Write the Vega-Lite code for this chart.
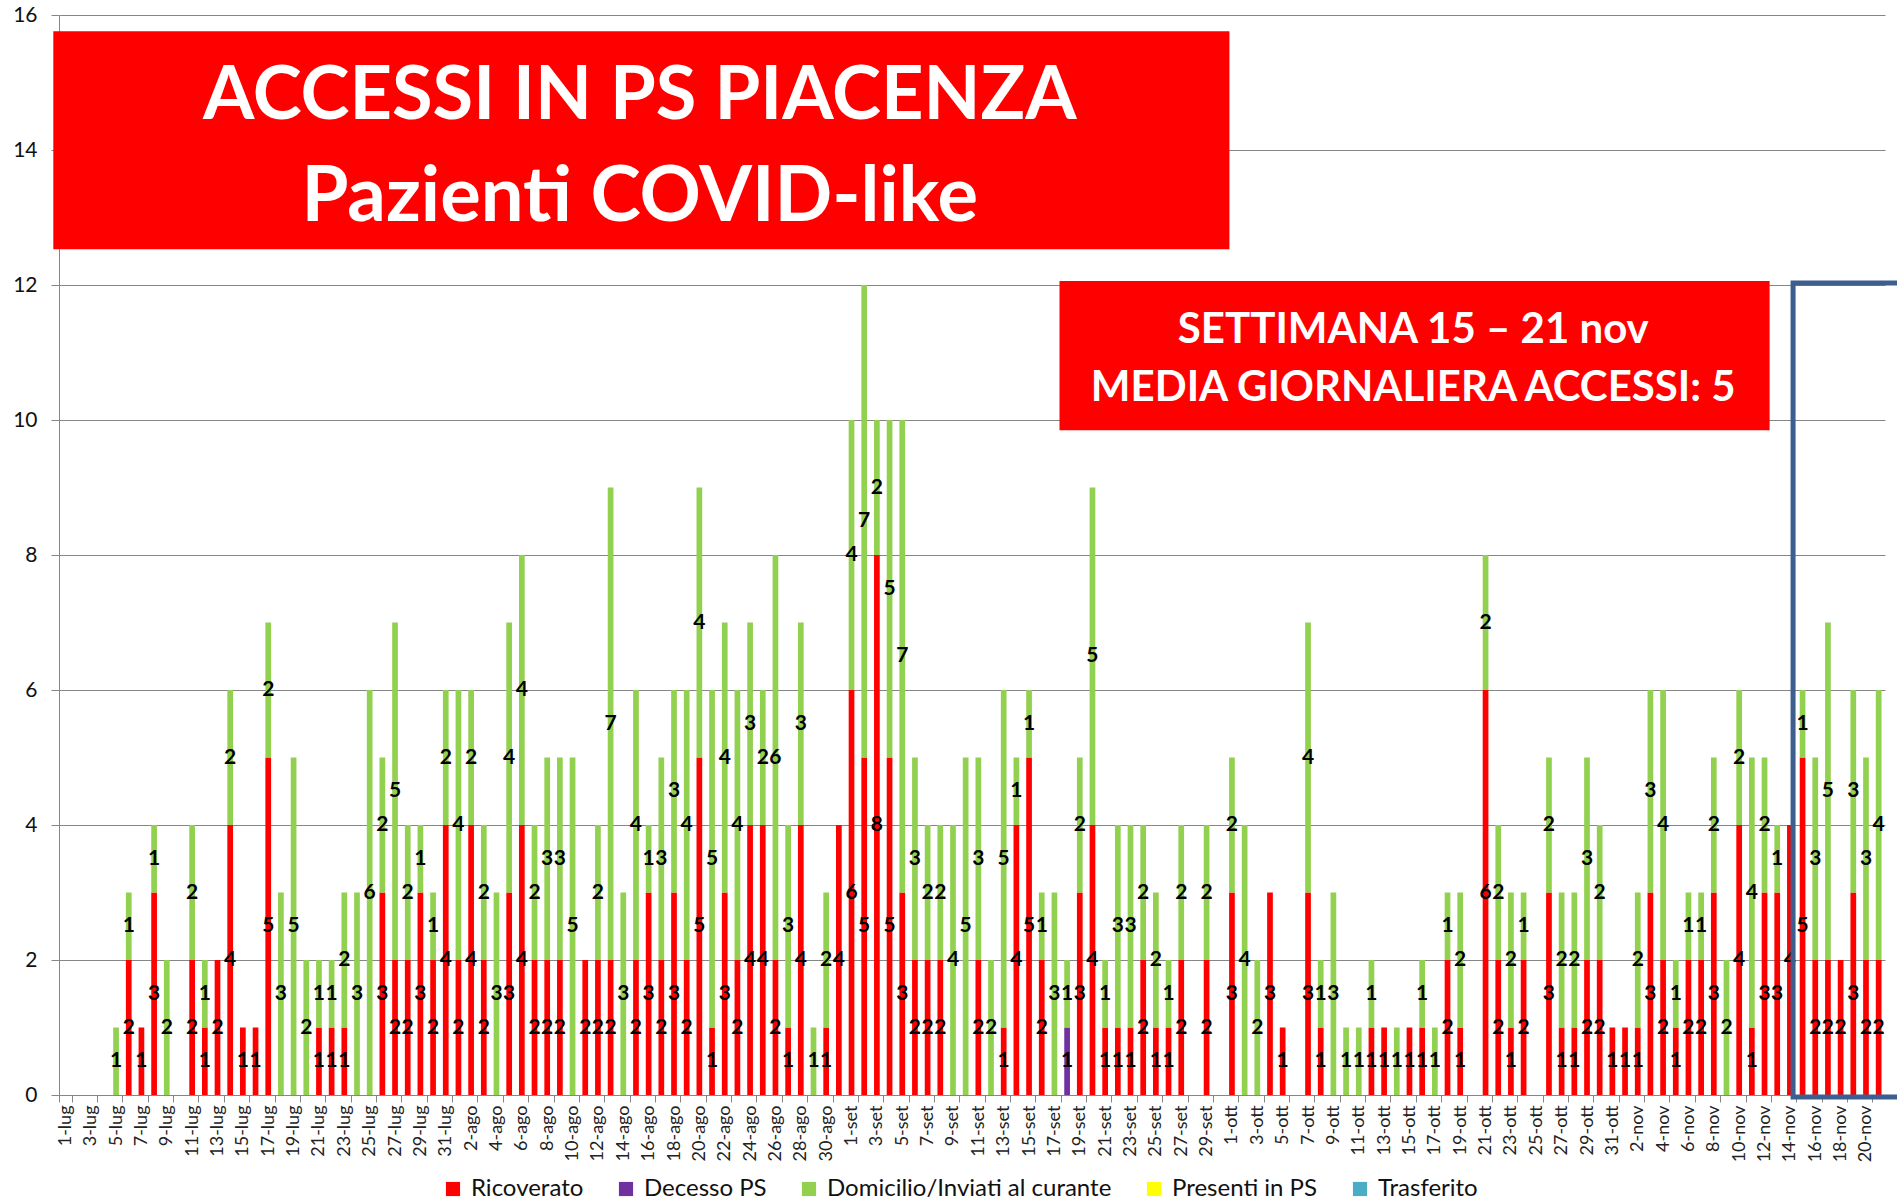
{
  "$schema": "https://vega.github.io/schema/vega-lite/v6.json",
  "width": 1826,
  "height": 1080,
  "autosize": "none",
  "padding": {"left": 59, "top": 15, "right": 12, "bottom": 105},
  "background": "white",
  "config": {"view": {"stroke": null}, "font": "Lato"},
  "datasets": {
    "acc": [
      {"d":"5-lug","s":"Domicilio/Inviati al curante","v":1,"k":3},
      {"d":"6-lug","s":"Ricoverato","v":2,"k":1},{"d":"6-lug","s":"Domicilio/Inviati al curante","v":1,"k":3},
      {"d":"7-lug","s":"Ricoverato","v":1,"k":1},
      {"d":"8-lug","s":"Ricoverato","v":3,"k":1},{"d":"8-lug","s":"Domicilio/Inviati al curante","v":1,"k":3},
      {"d":"9-lug","s":"Domicilio/Inviati al curante","v":2,"k":3},
      {"d":"11-lug","s":"Ricoverato","v":2,"k":1},{"d":"11-lug","s":"Domicilio/Inviati al curante","v":2,"k":3},
      {"d":"12-lug","s":"Ricoverato","v":1,"k":1},{"d":"12-lug","s":"Domicilio/Inviati al curante","v":1,"k":3},
      {"d":"13-lug","s":"Ricoverato","v":2,"k":1},
      {"d":"14-lug","s":"Ricoverato","v":4,"k":1},{"d":"14-lug","s":"Domicilio/Inviati al curante","v":2,"k":3},
      {"d":"15-lug","s":"Ricoverato","v":1,"k":1},
      {"d":"16-lug","s":"Ricoverato","v":1,"k":1},
      {"d":"17-lug","s":"Ricoverato","v":5,"k":1},{"d":"17-lug","s":"Domicilio/Inviati al curante","v":2,"k":3},
      {"d":"18-lug","s":"Domicilio/Inviati al curante","v":3,"k":3},
      {"d":"19-lug","s":"Domicilio/Inviati al curante","v":5,"k":3},
      {"d":"20-lug","s":"Domicilio/Inviati al curante","v":2,"k":3},
      {"d":"21-lug","s":"Ricoverato","v":1,"k":1},{"d":"21-lug","s":"Domicilio/Inviati al curante","v":1,"k":3},
      {"d":"22-lug","s":"Ricoverato","v":1,"k":1},{"d":"22-lug","s":"Domicilio/Inviati al curante","v":1,"k":3},
      {"d":"23-lug","s":"Ricoverato","v":1,"k":1},{"d":"23-lug","s":"Domicilio/Inviati al curante","v":2,"k":3},
      {"d":"24-lug","s":"Domicilio/Inviati al curante","v":3,"k":3},
      {"d":"25-lug","s":"Domicilio/Inviati al curante","v":6,"k":3},
      {"d":"26-lug","s":"Ricoverato","v":3,"k":1},{"d":"26-lug","s":"Domicilio/Inviati al curante","v":2,"k":3},
      {"d":"27-lug","s":"Ricoverato","v":2,"k":1},{"d":"27-lug","s":"Domicilio/Inviati al curante","v":5,"k":3},
      {"d":"28-lug","s":"Ricoverato","v":2,"k":1},{"d":"28-lug","s":"Domicilio/Inviati al curante","v":2,"k":3},
      {"d":"29-lug","s":"Ricoverato","v":3,"k":1},{"d":"29-lug","s":"Domicilio/Inviati al curante","v":1,"k":3},
      {"d":"30-lug","s":"Ricoverato","v":2,"k":1},{"d":"30-lug","s":"Domicilio/Inviati al curante","v":1,"k":3},
      {"d":"31-lug","s":"Ricoverato","v":4,"k":1},{"d":"31-lug","s":"Domicilio/Inviati al curante","v":2,"k":3},
      {"d":"1-ago","s":"Ricoverato","v":2,"k":1},{"d":"1-ago","s":"Domicilio/Inviati al curante","v":4,"k":3},
      {"d":"2-ago","s":"Ricoverato","v":4,"k":1},{"d":"2-ago","s":"Domicilio/Inviati al curante","v":2,"k":3},
      {"d":"3-ago","s":"Ricoverato","v":2,"k":1},{"d":"3-ago","s":"Domicilio/Inviati al curante","v":2,"k":3},
      {"d":"4-ago","s":"Domicilio/Inviati al curante","v":3,"k":3},
      {"d":"5-ago","s":"Ricoverato","v":3,"k":1},{"d":"5-ago","s":"Domicilio/Inviati al curante","v":4,"k":3},
      {"d":"6-ago","s":"Ricoverato","v":4,"k":1},{"d":"6-ago","s":"Domicilio/Inviati al curante","v":4,"k":3},
      {"d":"7-ago","s":"Ricoverato","v":2,"k":1},{"d":"7-ago","s":"Domicilio/Inviati al curante","v":2,"k":3},
      {"d":"8-ago","s":"Ricoverato","v":2,"k":1},{"d":"8-ago","s":"Domicilio/Inviati al curante","v":3,"k":3},
      {"d":"9-ago","s":"Ricoverato","v":2,"k":1},{"d":"9-ago","s":"Domicilio/Inviati al curante","v":3,"k":3},
      {"d":"10-ago","s":"Domicilio/Inviati al curante","v":5,"k":3},
      {"d":"11-ago","s":"Ricoverato","v":2,"k":1},
      {"d":"12-ago","s":"Ricoverato","v":2,"k":1},{"d":"12-ago","s":"Domicilio/Inviati al curante","v":2,"k":3},
      {"d":"13-ago","s":"Ricoverato","v":2,"k":1},{"d":"13-ago","s":"Domicilio/Inviati al curante","v":7,"k":3},
      {"d":"14-ago","s":"Domicilio/Inviati al curante","v":3,"k":3},
      {"d":"15-ago","s":"Ricoverato","v":2,"k":1},{"d":"15-ago","s":"Domicilio/Inviati al curante","v":4,"k":3},
      {"d":"16-ago","s":"Ricoverato","v":3,"k":1},{"d":"16-ago","s":"Domicilio/Inviati al curante","v":1,"k":3},
      {"d":"17-ago","s":"Ricoverato","v":2,"k":1},{"d":"17-ago","s":"Domicilio/Inviati al curante","v":3,"k":3},
      {"d":"18-ago","s":"Ricoverato","v":3,"k":1},{"d":"18-ago","s":"Domicilio/Inviati al curante","v":3,"k":3},
      {"d":"19-ago","s":"Ricoverato","v":2,"k":1},{"d":"19-ago","s":"Domicilio/Inviati al curante","v":4,"k":3},
      {"d":"20-ago","s":"Ricoverato","v":5,"k":1},{"d":"20-ago","s":"Domicilio/Inviati al curante","v":4,"k":3},
      {"d":"21-ago","s":"Ricoverato","v":1,"k":1},{"d":"21-ago","s":"Domicilio/Inviati al curante","v":5,"k":3},
      {"d":"22-ago","s":"Ricoverato","v":3,"k":1},{"d":"22-ago","s":"Domicilio/Inviati al curante","v":4,"k":3},
      {"d":"23-ago","s":"Ricoverato","v":2,"k":1},{"d":"23-ago","s":"Domicilio/Inviati al curante","v":4,"k":3},
      {"d":"24-ago","s":"Ricoverato","v":4,"k":1},{"d":"24-ago","s":"Domicilio/Inviati al curante","v":3,"k":3},
      {"d":"25-ago","s":"Ricoverato","v":4,"k":1},{"d":"25-ago","s":"Domicilio/Inviati al curante","v":2,"k":3},
      {"d":"26-ago","s":"Ricoverato","v":2,"k":1},{"d":"26-ago","s":"Domicilio/Inviati al curante","v":6,"k":3},
      {"d":"27-ago","s":"Ricoverato","v":1,"k":1},{"d":"27-ago","s":"Domicilio/Inviati al curante","v":3,"k":3},
      {"d":"28-ago","s":"Ricoverato","v":4,"k":1},{"d":"28-ago","s":"Domicilio/Inviati al curante","v":3,"k":3},
      {"d":"29-ago","s":"Domicilio/Inviati al curante","v":1,"k":3},
      {"d":"30-ago","s":"Ricoverato","v":1,"k":1},{"d":"30-ago","s":"Domicilio/Inviati al curante","v":2,"k":3},
      {"d":"31-ago","s":"Ricoverato","v":4,"k":1},
      {"d":"1-set","s":"Ricoverato","v":6,"k":1},{"d":"1-set","s":"Domicilio/Inviati al curante","v":4,"k":3},
      {"d":"2-set","s":"Ricoverato","v":5,"k":1},{"d":"2-set","s":"Domicilio/Inviati al curante","v":7,"k":3},
      {"d":"3-set","s":"Ricoverato","v":8,"k":1},{"d":"3-set","s":"Domicilio/Inviati al curante","v":2,"k":3},
      {"d":"4-set","s":"Ricoverato","v":5,"k":1},{"d":"4-set","s":"Domicilio/Inviati al curante","v":5,"k":3},
      {"d":"5-set","s":"Ricoverato","v":3,"k":1},{"d":"5-set","s":"Domicilio/Inviati al curante","v":7,"k":3},
      {"d":"6-set","s":"Ricoverato","v":2,"k":1},{"d":"6-set","s":"Domicilio/Inviati al curante","v":3,"k":3},
      {"d":"7-set","s":"Ricoverato","v":2,"k":1},{"d":"7-set","s":"Domicilio/Inviati al curante","v":2,"k":3},
      {"d":"8-set","s":"Ricoverato","v":2,"k":1},{"d":"8-set","s":"Domicilio/Inviati al curante","v":2,"k":3},
      {"d":"9-set","s":"Domicilio/Inviati al curante","v":4,"k":3},
      {"d":"10-set","s":"Domicilio/Inviati al curante","v":5,"k":3},
      {"d":"11-set","s":"Ricoverato","v":2,"k":1},{"d":"11-set","s":"Domicilio/Inviati al curante","v":3,"k":3},
      {"d":"12-set","s":"Domicilio/Inviati al curante","v":2,"k":3},
      {"d":"13-set","s":"Ricoverato","v":1,"k":1},{"d":"13-set","s":"Domicilio/Inviati al curante","v":5,"k":3},
      {"d":"14-set","s":"Ricoverato","v":4,"k":1},{"d":"14-set","s":"Domicilio/Inviati al curante","v":1,"k":3},
      {"d":"15-set","s":"Ricoverato","v":5,"k":1},{"d":"15-set","s":"Domicilio/Inviati al curante","v":1,"k":3},
      {"d":"16-set","s":"Ricoverato","v":2,"k":1},{"d":"16-set","s":"Domicilio/Inviati al curante","v":1,"k":3},
      {"d":"17-set","s":"Domicilio/Inviati al curante","v":3,"k":3},
      {"d":"18-set","s":"Decesso PS","v":1,"k":2},{"d":"18-set","s":"Domicilio/Inviati al curante","v":1,"k":3},
      {"d":"19-set","s":"Ricoverato","v":3,"k":1},{"d":"19-set","s":"Domicilio/Inviati al curante","v":2,"k":3},
      {"d":"20-set","s":"Ricoverato","v":4,"k":1},{"d":"20-set","s":"Domicilio/Inviati al curante","v":5,"k":3},
      {"d":"21-set","s":"Ricoverato","v":1,"k":1},{"d":"21-set","s":"Domicilio/Inviati al curante","v":1,"k":3},
      {"d":"22-set","s":"Ricoverato","v":1,"k":1},{"d":"22-set","s":"Domicilio/Inviati al curante","v":3,"k":3},
      {"d":"23-set","s":"Ricoverato","v":1,"k":1},{"d":"23-set","s":"Domicilio/Inviati al curante","v":3,"k":3},
      {"d":"24-set","s":"Ricoverato","v":2,"k":1},{"d":"24-set","s":"Domicilio/Inviati al curante","v":2,"k":3},
      {"d":"25-set","s":"Ricoverato","v":1,"k":1},{"d":"25-set","s":"Domicilio/Inviati al curante","v":2,"k":3},
      {"d":"26-set","s":"Ricoverato","v":1,"k":1},{"d":"26-set","s":"Domicilio/Inviati al curante","v":1,"k":3},
      {"d":"27-set","s":"Ricoverato","v":2,"k":1},{"d":"27-set","s":"Domicilio/Inviati al curante","v":2,"k":3},
      {"d":"29-set","s":"Ricoverato","v":2,"k":1},{"d":"29-set","s":"Domicilio/Inviati al curante","v":2,"k":3},
      {"d":"1-ott","s":"Ricoverato","v":3,"k":1},{"d":"1-ott","s":"Domicilio/Inviati al curante","v":2,"k":3},
      {"d":"2-ott","s":"Domicilio/Inviati al curante","v":4,"k":3},
      {"d":"3-ott","s":"Domicilio/Inviati al curante","v":2,"k":3},
      {"d":"4-ott","s":"Ricoverato","v":3,"k":1},
      {"d":"5-ott","s":"Ricoverato","v":1,"k":1},
      {"d":"7-ott","s":"Ricoverato","v":3,"k":1},{"d":"7-ott","s":"Domicilio/Inviati al curante","v":4,"k":3},
      {"d":"8-ott","s":"Ricoverato","v":1,"k":1},{"d":"8-ott","s":"Domicilio/Inviati al curante","v":1,"k":3},
      {"d":"9-ott","s":"Domicilio/Inviati al curante","v":3,"k":3},
      {"d":"10-ott","s":"Domicilio/Inviati al curante","v":1,"k":3},
      {"d":"11-ott","s":"Domicilio/Inviati al curante","v":1,"k":3},
      {"d":"12-ott","s":"Ricoverato","v":1,"k":1},{"d":"12-ott","s":"Domicilio/Inviati al curante","v":1,"k":3},
      {"d":"13-ott","s":"Ricoverato","v":1,"k":1},
      {"d":"14-ott","s":"Domicilio/Inviati al curante","v":1,"k":3},
      {"d":"15-ott","s":"Ricoverato","v":1,"k":1},
      {"d":"16-ott","s":"Ricoverato","v":1,"k":1},{"d":"16-ott","s":"Domicilio/Inviati al curante","v":1,"k":3},
      {"d":"17-ott","s":"Domicilio/Inviati al curante","v":1,"k":3},
      {"d":"18-ott","s":"Ricoverato","v":2,"k":1},{"d":"18-ott","s":"Domicilio/Inviati al curante","v":1,"k":3},
      {"d":"19-ott","s":"Ricoverato","v":1,"k":1},{"d":"19-ott","s":"Domicilio/Inviati al curante","v":2,"k":3},
      {"d":"21-ott","s":"Ricoverato","v":6,"k":1},{"d":"21-ott","s":"Domicilio/Inviati al curante","v":2,"k":3},
      {"d":"22-ott","s":"Ricoverato","v":2,"k":1},{"d":"22-ott","s":"Domicilio/Inviati al curante","v":2,"k":3},
      {"d":"23-ott","s":"Ricoverato","v":1,"k":1},{"d":"23-ott","s":"Domicilio/Inviati al curante","v":2,"k":3},
      {"d":"24-ott","s":"Ricoverato","v":2,"k":1},{"d":"24-ott","s":"Domicilio/Inviati al curante","v":1,"k":3},
      {"d":"26-ott","s":"Ricoverato","v":3,"k":1},{"d":"26-ott","s":"Domicilio/Inviati al curante","v":2,"k":3},
      {"d":"27-ott","s":"Ricoverato","v":1,"k":1},{"d":"27-ott","s":"Domicilio/Inviati al curante","v":2,"k":3},
      {"d":"28-ott","s":"Ricoverato","v":1,"k":1},{"d":"28-ott","s":"Domicilio/Inviati al curante","v":2,"k":3},
      {"d":"29-ott","s":"Ricoverato","v":2,"k":1},{"d":"29-ott","s":"Domicilio/Inviati al curante","v":3,"k":3},
      {"d":"30-ott","s":"Ricoverato","v":2,"k":1},{"d":"30-ott","s":"Domicilio/Inviati al curante","v":2,"k":3},
      {"d":"31-ott","s":"Ricoverato","v":1,"k":1},
      {"d":"1-nov","s":"Ricoverato","v":1,"k":1},
      {"d":"2-nov","s":"Ricoverato","v":1,"k":1},{"d":"2-nov","s":"Domicilio/Inviati al curante","v":2,"k":3},
      {"d":"3-nov","s":"Ricoverato","v":3,"k":1},{"d":"3-nov","s":"Domicilio/Inviati al curante","v":3,"k":3},
      {"d":"4-nov","s":"Ricoverato","v":2,"k":1},{"d":"4-nov","s":"Domicilio/Inviati al curante","v":4,"k":3},
      {"d":"5-nov","s":"Ricoverato","v":1,"k":1},{"d":"5-nov","s":"Domicilio/Inviati al curante","v":1,"k":3},
      {"d":"6-nov","s":"Ricoverato","v":2,"k":1},{"d":"6-nov","s":"Domicilio/Inviati al curante","v":1,"k":3},
      {"d":"7-nov","s":"Ricoverato","v":2,"k":1},{"d":"7-nov","s":"Domicilio/Inviati al curante","v":1,"k":3},
      {"d":"8-nov","s":"Ricoverato","v":3,"k":1},{"d":"8-nov","s":"Domicilio/Inviati al curante","v":2,"k":3},
      {"d":"9-nov","s":"Domicilio/Inviati al curante","v":2,"k":3},
      {"d":"10-nov","s":"Ricoverato","v":4,"k":1},{"d":"10-nov","s":"Domicilio/Inviati al curante","v":2,"k":3},
      {"d":"11-nov","s":"Ricoverato","v":1,"k":1},{"d":"11-nov","s":"Domicilio/Inviati al curante","v":4,"k":3},
      {"d":"12-nov","s":"Ricoverato","v":3,"k":1},{"d":"12-nov","s":"Domicilio/Inviati al curante","v":2,"k":3},
      {"d":"13-nov","s":"Ricoverato","v":3,"k":1},{"d":"13-nov","s":"Domicilio/Inviati al curante","v":1,"k":3},
      {"d":"14-nov","s":"Ricoverato","v":4,"k":1},
      {"d":"15-nov","s":"Ricoverato","v":5,"k":1},{"d":"15-nov","s":"Domicilio/Inviati al curante","v":1,"k":3},
      {"d":"16-nov","s":"Ricoverato","v":2,"k":1},{"d":"16-nov","s":"Domicilio/Inviati al curante","v":3,"k":3},
      {"d":"17-nov","s":"Ricoverato","v":2,"k":1},{"d":"17-nov","s":"Domicilio/Inviati al curante","v":5,"k":3},
      {"d":"18-nov","s":"Ricoverato","v":2,"k":1},
      {"d":"19-nov","s":"Ricoverato","v":3,"k":1},{"d":"19-nov","s":"Domicilio/Inviati al curante","v":3,"k":3},
      {"d":"20-nov","s":"Ricoverato","v":2,"k":1},{"d":"20-nov","s":"Domicilio/Inviati al curante","v":3,"k":3},
      {"d":"21-nov","s":"Ricoverato","v":2,"k":1},{"d":"21-nov","s":"Domicilio/Inviati al curante","v":4,"k":3}
    ]
  },
  "layer": [
    {
      "data": {"name": "acc"},
      "encoding": {
        "x": {
          "field": "d",
          "type": "nominal",
          "sort": null,
          "scale": {
            "paddingInner": 0,
            "paddingOuter": 0,
            "domain": ["1-lug","2-lug","3-lug","4-lug","5-lug","6-lug","7-lug","8-lug","9-lug","10-lug","11-lug","12-lug","13-lug","14-lug","15-lug","16-lug","17-lug","18-lug","19-lug","20-lug","21-lug","22-lug","23-lug","24-lug","25-lug","26-lug","27-lug","28-lug","29-lug","30-lug","31-lug",
              "1-ago","2-ago","3-ago","4-ago","5-ago","6-ago","7-ago","8-ago","9-ago","10-ago","11-ago","12-ago","13-ago","14-ago","15-ago","16-ago","17-ago","18-ago","19-ago","20-ago","21-ago","22-ago","23-ago","24-ago","25-ago","26-ago","27-ago","28-ago","29-ago","30-ago","31-ago",
              "1-set","2-set","3-set","4-set","5-set","6-set","7-set","8-set","9-set","10-set","11-set","12-set","13-set","14-set","15-set","16-set","17-set","18-set","19-set","20-set","21-set","22-set","23-set","24-set","25-set","26-set","27-set","28-set","29-set","30-set",
              "1-ott","2-ott","3-ott","4-ott","5-ott","6-ott","7-ott","8-ott","9-ott","10-ott","11-ott","12-ott","13-ott","14-ott","15-ott","16-ott","17-ott","18-ott","19-ott","20-ott","21-ott","22-ott","23-ott","24-ott","25-ott","26-ott","27-ott","28-ott","29-ott","30-ott","31-ott",
              "1-nov","2-nov","3-nov","4-nov","5-nov","6-nov","7-nov","8-nov","9-nov","10-nov","11-nov","12-nov","13-nov","14-nov","15-nov","16-nov","17-nov","18-nov","19-nov","20-nov","21-nov"]
          },
          "axis": {
            "title": null,
            "values": ["1-lug","3-lug","5-lug","7-lug","9-lug","11-lug","13-lug","15-lug","17-lug","19-lug","21-lug","23-lug","25-lug","27-lug","29-lug","31-lug",
              "2-ago","4-ago","6-ago","8-ago","10-ago","12-ago","14-ago","16-ago","18-ago","20-ago","22-ago","24-ago","26-ago","28-ago","30-ago",
              "1-set","3-set","5-set","7-set","9-set","11-set","13-set","15-set","17-set","19-set","21-set","23-set","25-set","27-set","29-set",
              "1-ott","3-ott","5-ott","7-ott","9-ott","11-ott","13-ott","15-ott","17-ott","19-ott","21-ott","23-ott","25-ott","27-ott","29-ott","31-ott",
              "2-nov","4-nov","6-nov","8-nov","10-nov","12-nov","14-nov","16-nov","18-nov","20-nov"],
            "labelAngle": -90,
            "labelFontSize": 18,
            "labelColor": "#222222",
            "labelPadding": 3,
            "tickBand": "extent",
            "tickSize": 7,
            "tickColor": "#868686",
            "domainColor": "#868686",
            "grid": false
          }
        }
      },
      "layer": [
        {
          "mark": {"type": "bar", "width": {"band": 0.45}},
          "encoding": {
            "y": {
              "field": "v",
              "type": "quantitative",
              "stack": "zero",
              "scale": {"domain": [0, 16], "nice": false},
              "axis": {
                "title": null,
                "values": [0, 2, 4, 6, 8, 10, 12, 14, 16],
                "format": "d",
                "grid": true,
                "gridColor": "#868686",
                "domainColor": "#868686",
                "tickColor": "#868686",
                "tickSize": 8,
                "labelPadding": 14,
                "labelFontSize": 21,
                "labelColor": "#111111"
              }
            },
            "color": {
              "field": "s",
              "type": "nominal",
              "scale": {
                "domain": ["Ricoverato", "Decesso PS", "Domicilio/Inviati al curante", "Presenti in PS", "Trasferito"],
                "range": ["#FF0000", "#7030A0", "#92D050", "#FFFF00", "#4BACC6"]
              },
              "legend": {
                "title": null,
                "orient": "none",
                "direction": "horizontal",
                "columns": 5,
                "legendX": 382,
                "legendY": 1162,
                "symbolType": "square",
                "symbolSize": 200,
                "symbolStrokeWidth": 0,
                "labelFontSize": 24,
                "labelLimit": 0,
                "labelColor": "#111111",
                "labelOffset": 6,
                "columnPadding": 30
              }
            },
            "order": {"field": "k", "type": "quantitative"}
          }
        },
        {
          "mark": {"type": "text", "fontWeight": "bold", "fontSize": 21, "color": "#000000", "baseline": "middle", "align": "center"},
          "encoding": {
            "y": {"field": "v", "type": "quantitative", "stack": "zero", "bandPosition": 0.5},
            "detail": {"field": "s"},
            "order": {"field": "k", "type": "quantitative"},
            "text": {"field": "v", "type": "quantitative"}
          }
        }
      ]
    },
    {
      "data": {"values": [{}]},
      "layer": [
        {
          "mark": {"type": "rect", "color": "#FF0000"},
          "encoding": {
            "x": {"datum": -0.45, "type": "quantitative", "scale": {"domain": [0, 144], "nice": false, "zero": false}, "axis": null},
            "x2": {"datum": 92.3},
            "y": {"datum": 15.76, "type": "quantitative"},
            "y2": {"datum": 12.53}
          }
        },
        {
          "mark": {"type": "text", "text": "ACCESSI IN PS PIACENZA", "fontSize": 74, "fontWeight": "bold", "color": "white", "align": "center", "baseline": "alphabetic"},
          "encoding": {
            "x": {"datum": 45.8, "type": "quantitative", "axis": null},
            "y": {"datum": 14.46, "type": "quantitative"}
          }
        },
        {
          "mark": {"type": "text", "text": "Pazienti COVID-like", "fontSize": 76, "fontWeight": "bold", "color": "white", "align": "center", "baseline": "alphabetic"},
          "encoding": {
            "x": {"datum": 45.8, "type": "quantitative", "axis": null},
            "y": {"datum": 12.95, "type": "quantitative"}
          }
        },
        {
          "mark": {"type": "rect", "color": "#FF0000"},
          "encoding": {
            "x": {"datum": 78.9, "type": "quantitative", "axis": null},
            "x2": {"datum": 134.9},
            "y": {"datum": 12.06, "type": "quantitative"},
            "y2": {"datum": 9.85}
          }
        },
        {
          "mark": {"type": "text", "text": "SETTIMANA  15 – 21 nov", "fontSize": 42, "fontWeight": "bold", "color": "white", "align": "center", "baseline": "alphabetic"},
          "encoding": {
            "x": {"datum": 106.8, "type": "quantitative", "axis": null},
            "y": {"datum": 11.14, "type": "quantitative"}
          }
        },
        {
          "mark": {"type": "text", "text": "MEDIA GIORNALIERA ACCESSI: 5", "fontSize": 42, "fontWeight": "bold", "color": "white", "align": "center", "baseline": "alphabetic"},
          "encoding": {
            "x": {"datum": 106.8, "type": "quantitative", "axis": null},
            "y": {"datum": 10.28, "type": "quantitative"}
          }
        },
        {
          "mark": {"type": "rect", "filled": false, "stroke": "#3C5F8F", "strokeWidth": 5},
          "encoding": {
            "x": {"datum": 136.75, "type": "quantitative", "axis": null},
            "x2": {"datum": 146},
            "y": {"datum": 12.03, "type": "quantitative"},
            "y2": {"datum": -0.03}
          }
        }
      ]
    }
  ],
  "resolve": {"scale": {"x": "independent"}}
}
